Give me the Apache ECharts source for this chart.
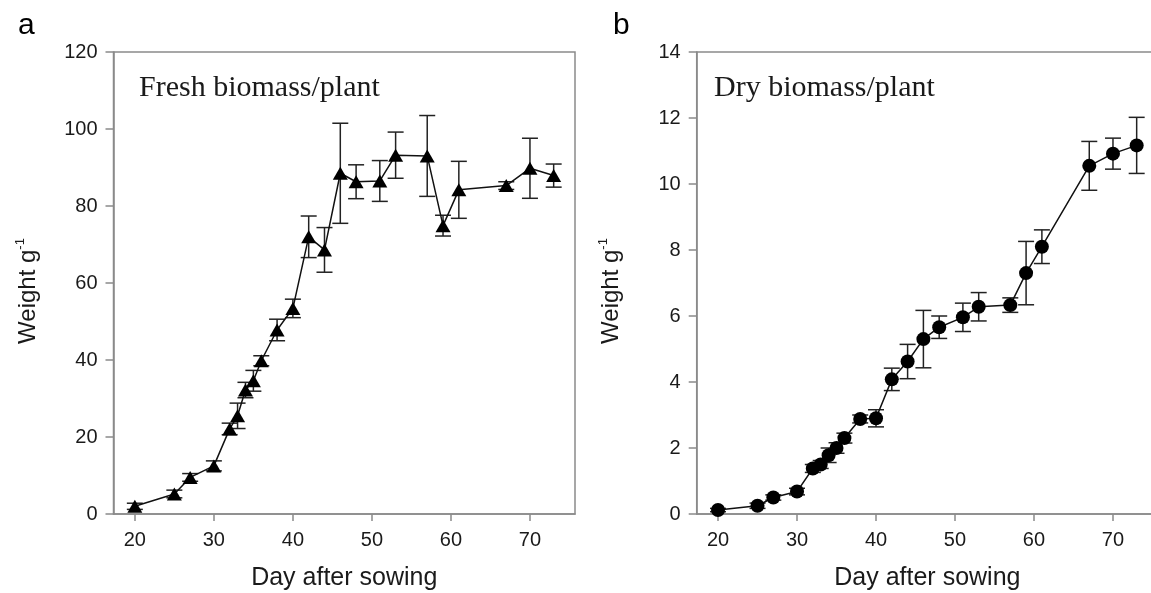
<!DOCTYPE html>
<html>
<head>
<meta charset="utf-8">
<script src="https://cdn.jsdelivr.net/npm/echarts@6/dist/echarts.min.js"></script>
<style>
html,body{margin:0;padding:0;background:#fff;}
#c{width:1151px;height:593px;}
</style>
</head>
<body>
<div id="c"></div>
<script>
// ---- data ----
const days = [20,25,27,30,32,33,34,35,36,38,40,42,44,46,48,51,53,57,59,61,67,70,73];
const fresh = [2.0,5.2,9.5,12.5,22.1,25.5,32.2,34.6,39.8,47.8,53.4,72.0,68.6,88.5,86.3,86.5,93.2,93.0,74.9,84.2,85.3,89.8,87.9];
const freshErr = [0.8,1.0,1.0,1.3,1.5,3.3,2.0,2.7,1.3,2.8,2.4,5.4,5.8,13.0,4.4,5.3,6.0,10.5,2.7,7.4,1.0,7.8,3.0];
const dry = [0.12,0.25,0.5,0.68,1.38,1.5,1.78,2.0,2.3,2.88,2.9,4.08,4.62,5.3,5.66,5.96,6.28,6.33,7.3,8.1,10.55,10.92,11.17];
const dryErr = [0.05,0.08,0.08,0.1,0.12,0.12,0.22,0.16,0.15,0.12,0.26,0.34,0.52,0.87,0.34,0.43,0.43,0.22,0.96,0.51,0.74,0.47,0.85];
const xTicks = [20,30,40,50,60,70];
const panelLetters = ['a','b'];
const panelTitles = ['Fresh biomass/plant','Dry biomass/plant'];
const xName = 'Day after sowing';

// ---- chart ----
const chart = echarts.init(document.getElementById('c'), null, {renderer:'canvas'});
const sans = 'Liberation Sans, Arial, sans-serif';
const serif = 'Liberation Serif, Times New Roman, serif';
const axisGray = '#8a8a8a';
const textColor = '#1a1a1a';

function xAxisCfg(gi){
  return {
    type:'value', gridIndex:gi, min:17.3, max:75.7,
    name:xName, nameLocation:'middle', nameGap:52,
    nameTextStyle:{fontFamily:sans,fontSize:25,color:textColor},
    axisLine:{show:true,lineStyle:{color:axisGray,width:1.5}},
    axisTick:{show:true,inside:false,length:7,customValues:xTicks,lineStyle:{color:axisGray,width:1.5}},
    axisLabel:{customValues:xTicks,margin:16,fontFamily:sans,fontSize:20,color:textColor},
    splitLine:{show:false}
  };
}
function yAxisCfg(gi,max,interval){
  return {
    type:'value', gridIndex:gi, min:0, max:max, interval:interval,
    name:'{a|Weight g}{s|-1}', nameLocation:'middle', nameGap:73, nameRotate:90,
    nameTextStyle:{fontFamily:sans,fontSize:24,color:textColor,padding:[0,16,0,0],
      rich:{a:{fontFamily:sans,fontSize:24,color:textColor,verticalAlign:'bottom'},
            s:{fontFamily:sans,fontSize:13,color:textColor,verticalAlign:'top',padding:[0,0,14,0]}}},
    axisLine:{show:true,lineStyle:{color:axisGray,width:1.5}},
    axisTick:{show:true,inside:false,length:8,lineStyle:{color:axisGray,width:1.5}},
    axisLabel:{margin:16,fontFamily:sans,fontSize:20,color:textColor},
    splitLine:{show:false}
  };
}

function errSeries(gi,vals,errs){
  return {
    type:'custom', xAxisIndex:gi, yAxisIndex:gi, z:1,
    data: days.map((d,i)=>[d, vals[i]-errs[i], vals[i]+errs[i]]),
    renderItem:function(params,api){
      const x = api.value(0);
      const lo = api.coord([x, api.value(1)]);
      const hi = api.coord([x, api.value(2)]);
      const w = 8;
      const style = {stroke:'#222',lineWidth:1.5};
      return {type:'group',children:[
        {type:'line',shape:{x1:lo[0],y1:lo[1],x2:hi[0],y2:hi[1]},style:style},
        {type:'line',shape:{x1:hi[0]-w,y1:hi[1],x2:hi[0]+w,y2:hi[1]},style:style},
        {type:'line',shape:{x1:lo[0]-w,y1:lo[1],x2:lo[0]+w,y2:lo[1]},style:style}
      ]};
    },
    silent:true
  };
}

const option = {
  animation:false,
  backgroundColor:'#fff',
  title:[
    {text:panelLetters[0],left:13,top:6,textStyle:{fontFamily:sans,fontSize:30,fontWeight:'normal',color:'#000'}},
    {text:panelLetters[1],left:608,top:6,textStyle:{fontFamily:sans,fontSize:30,fontWeight:'normal',color:'#000'}},
    {text:panelTitles[0],left:134,top:68,textStyle:{fontFamily:serif,fontSize:30,fontWeight:'normal',color:textColor}},
    {text:panelTitles[1],left:709,top:68,textStyle:{fontFamily:serif,fontSize:30,fontWeight:'normal',color:textColor}}
  ],
  grid:[
    {left:113.5,top:52,width:461.5,height:462,outerBoundsMode:'none',containLabel:false,show:true,borderColor:axisGray,borderWidth:1.5,backgroundColor:'transparent'},
    {left:696.7,top:52,width:461.3,height:462,outerBoundsMode:'none',containLabel:false,show:true,borderColor:axisGray,borderWidth:1.5,backgroundColor:'transparent'}
  ],
  xAxis:[xAxisCfg(0),xAxisCfg(1)],
  yAxis:[yAxisCfg(0,120,20),yAxisCfg(1,14,2)],
  series:[
    errSeries(0,fresh,freshErr),
    {type:'line',xAxisIndex:0,yAxisIndex:0,z:3,data:days.map((d,i)=>[d,fresh[i]]),
     symbol:'triangle',symbolSize:[15,13],showAllSymbol:true,
     lineStyle:{color:'#111',width:1.5},itemStyle:{color:'#000'}},
    errSeries(1,dry,dryErr),
    {type:'line',xAxisIndex:1,yAxisIndex:1,z:3,data:days.map((d,i)=>[d,dry[i]]),
     symbol:'circle',symbolSize:14,showAllSymbol:true,
     lineStyle:{color:'#111',width:1.5},itemStyle:{color:'#000'}}
  ]
};
chart.setOption(option);
</script>
</body>
</html>
